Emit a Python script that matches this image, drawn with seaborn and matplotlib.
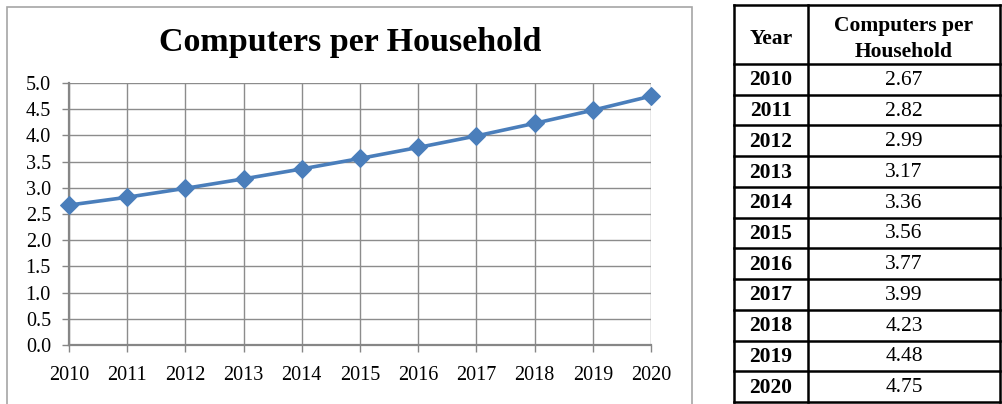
import matplotlib
matplotlib.use("Agg")
import matplotlib.pyplot as plt
from matplotlib.patches import Rectangle
import seaborn as sns
import pandas as pd

years = [2010, 2011, 2012, 2013, 2014, 2015, 2016, 2017, 2018, 2019, 2020]
computers = [2.67, 2.82, 2.99, 3.17, 3.36, 3.56, 3.77, 3.99, 4.23, 4.48, 4.75]
title = "Computers per Household"
col_headers = ["Year", "Computers per\nHousehold"]
y_ticks = [0.0, 0.5, 1.0, 1.5, 2.0, 2.5, 3.0, 3.5, 4.0, 4.5, 5.0]

df = pd.DataFrame({"Year": years, "Computers": computers})

sns.set_theme(style="white")
plt.rcParams["font.family"] = ["Liberation Serif", "DejaVu Serif"]
plt.rcParams["text.color"] = "black"

W, H = 1003, 404
fig = plt.figure(figsize=(W / 100, H / 100), dpi=100)
fig.patch.set_facecolor("white")

grid_c = "#8c8c8c"
line_c = "#4a7ebb"

# chart frame
frame = Rectangle((7 / W, -0.05), (692 - 7) / W, (H - 7) / H + 0.05,
                  transform=fig.transFigure, fill=False,
                  edgecolor="#a6a6a6", linewidth=1.2, zorder=0)
fig.patches.append(frame)

ax = fig.add_axes([69 / W, (H - 345) / H, (651 - 69) / W, (345 - 83) / H])
sns.lineplot(data=df, x="Year", y="Computers", ax=ax, color=line_c,
             linewidth=2.6, marker="D", markersize=9.5,
             markeredgecolor=line_c, clip_on=False, zorder=5)
ax.set_xlim(years[0], years[-1])
ax.set_ylim(y_ticks[0], y_ticks[-1])
ax.set_xticks(years)
ax.set_xticklabels([str(y) for y in years], fontsize=14.5)
ax.set_yticks(y_ticks)
ax.set_yticklabels([f"{v:.1f}" for v in y_ticks], fontsize=14.5)
ax.set_xlabel("")
ax.set_ylabel("")
ax.grid(True, color=grid_c, linewidth=1.0)
ax.set_axisbelow(True)
for s in ["top", "right"]:
    ax.spines[s].set_visible(False)
for s in ["left", "bottom"]:
    ax.spines[s].set_color("#868686")
    ax.spines[s].set_linewidth(1.6)
ax.tick_params(axis="both", which="both", length=5, width=1.0,
               color="#868686", labelcolor="black", direction="out",
               left=True, bottom=True)
ax.tick_params(axis="x", pad=10)
ax.tick_params(axis="y", pad=8)
fig.text(350 / W, (H - 43) / H, title, ha="center", va="center",
         fontsize=24.5, fontweight="bold", color="black")

# data table
tax = fig.add_axes([0, 0, 1, 1])
tax.set_xlim(0, W)
tax.set_ylim(H, 0)
tax.axis("off")
x0, xm, x1 = 734, 808, 1000
y_top, y_head = 5, 64
row_h = (402 - y_head) / len(years)
lw = 1.8
row_edges = [y_top, y_head] + [y_head + row_h * (i + 1) for i in range(len(years))]
for yy in row_edges:
    tax.plot([x0, x1], [yy, yy], color="black", lw=lw, solid_capstyle="projecting")
for xx in [x0, xm, x1]:
    tax.plot([xx, xx], [y_top, row_edges[-1]], color="black", lw=lw,
             solid_capstyle="projecting")
tax.text((x0 + xm) / 2, 39, col_headers[0], ha="center",
         va="center", fontsize=15.5, fontweight="bold")
tax.text((xm + x1) / 2, 39, col_headers[1], ha="center",
         va="center", fontsize=15.5, fontweight="bold", linespacing=1.45)
for i, (yr, v) in enumerate(zip(years, computers)):
    yc = y_head + row_h * (i + 0.5) + 1
    tax.text((x0 + xm) / 2, yc, str(yr), ha="center", va="center",
             fontsize=15.5, fontweight="bold")
    tax.text((xm + x1) / 2, yc, f"{v:.2f}", ha="center", va="center",
             fontsize=15.5)

fig.savefig("out.png", dpi=100, facecolor="white")
